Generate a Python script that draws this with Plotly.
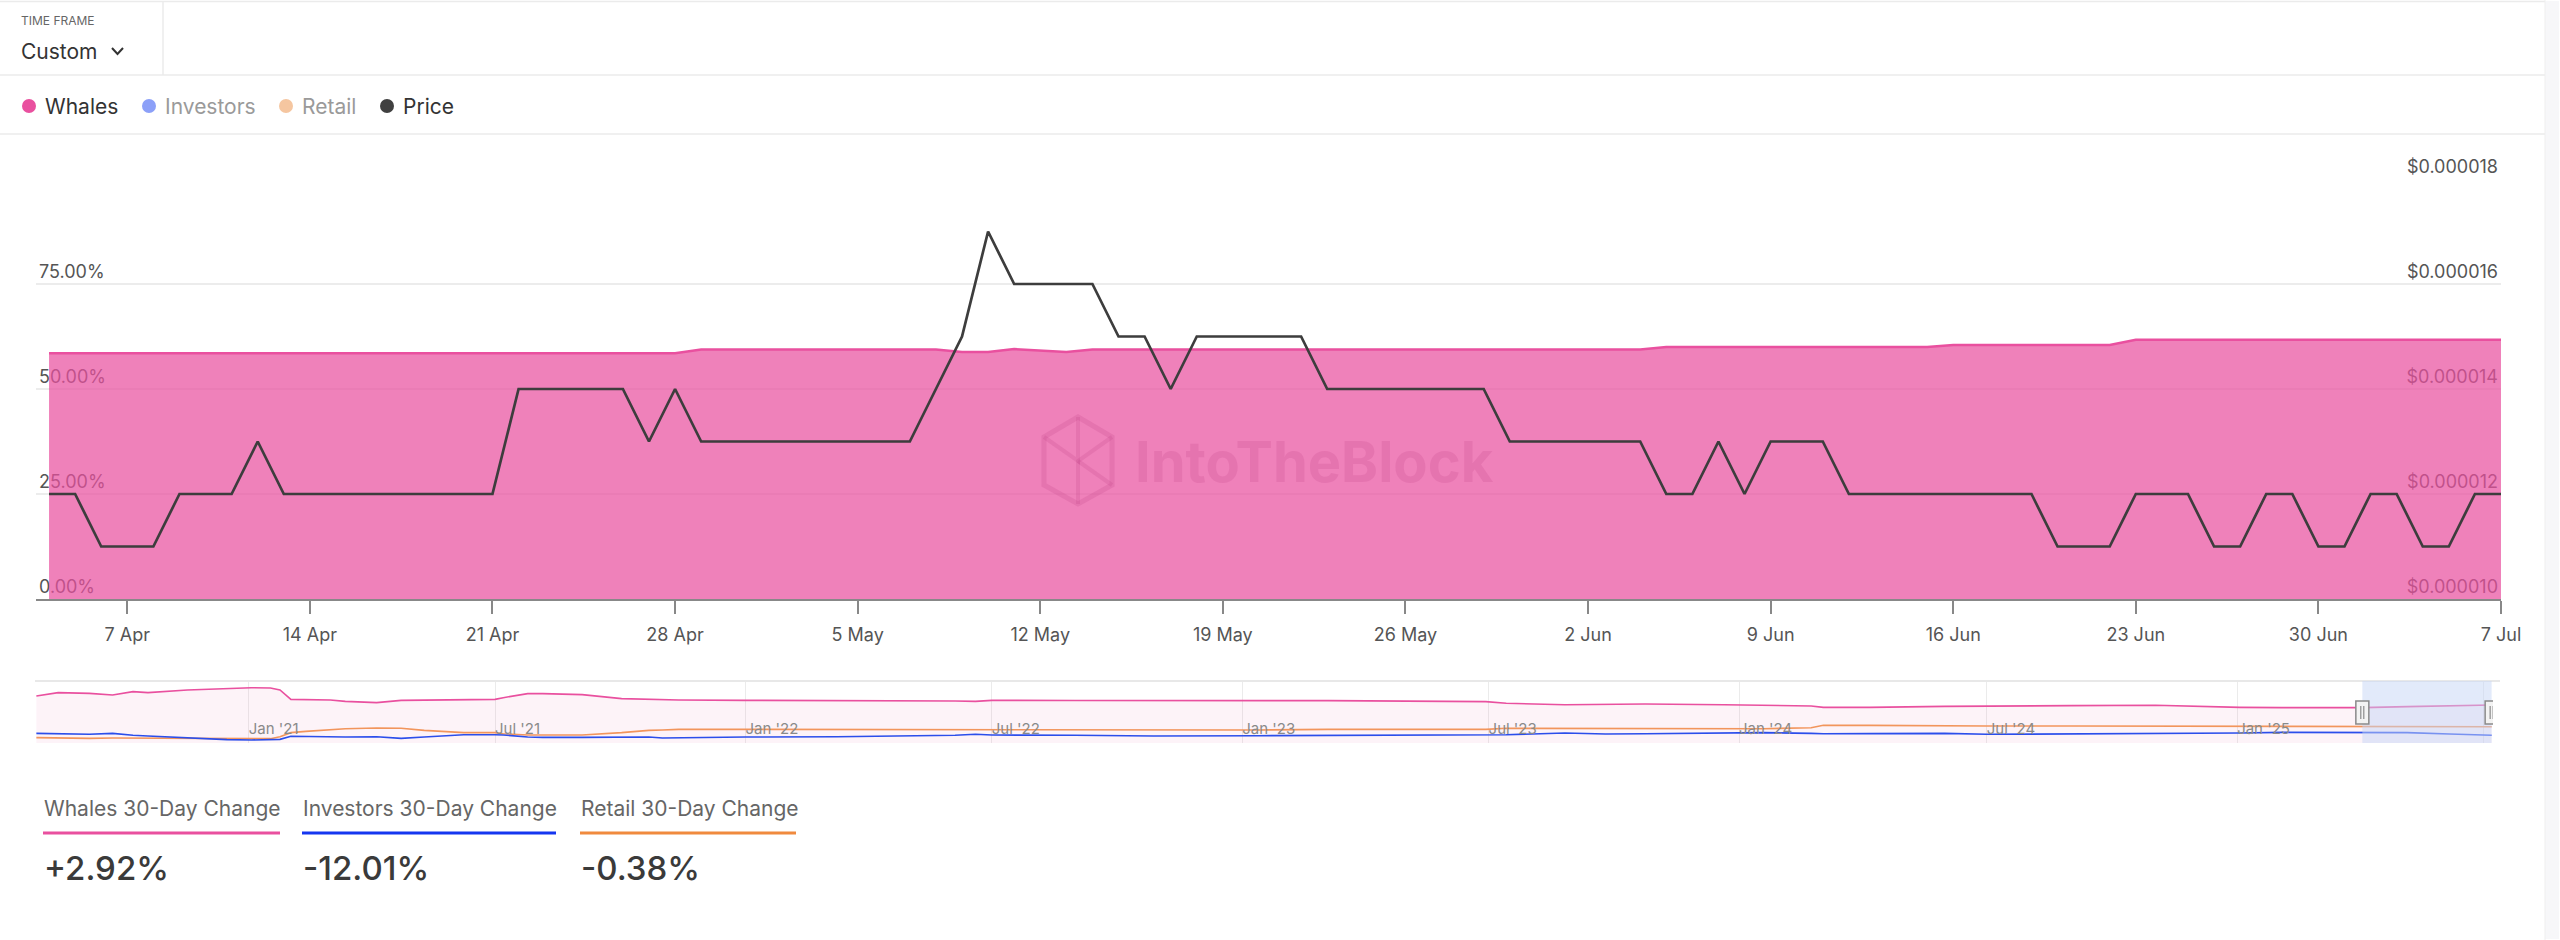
import pandas as pd
import plotly.graph_objects as go

W, H = 2560, 940
FONT = "Inter"

# ---------------- data: main chart (daily, 4 Apr 2025 - 7 Jul 2025) ----------------
dates = pd.date_range("2025-04-04", "2025-07-07", freq="D")

whales_pct = [
    58.5, 58.5, 58.5, 58.5, 58.5, 58.5, 58.5, 58.5, 58.5, 58.5,
    58.5, 58.5, 58.5, 58.5, 58.5, 58.5, 58.5, 58.5, 58.5, 58.5,
    58.5, 58.5, 58.5, 58.5, 58.5, 59.4, 59.4, 59.4, 59.4, 59.4,
    59.4, 59.4, 59.4, 59.4, 59.4, 58.8, 58.8, 59.5, 59.2, 58.8,
    59.4, 59.4, 59.4, 59.4, 59.4, 59.4, 59.4, 59.4, 59.4, 59.4,
    59.4, 59.4, 59.4, 59.4, 59.4, 59.4, 59.4, 59.4, 59.4, 59.4,
    59.4, 59.4, 60.0, 60.0, 60.0, 60.0, 60.0, 60.0, 60.0, 60.0,
    60.0, 60.0, 60.0, 60.5, 60.5, 60.5, 60.5, 60.5, 60.5, 60.5,
    61.7, 61.7, 61.7, 61.7, 61.7, 61.7, 61.7, 61.7, 61.7, 61.7,
    61.7, 61.7, 61.7, 61.7, 61.7,
]

# price in millionths of a dollar
price_micro = [
    12, 12, 11, 11, 11, 12, 12, 12, 13, 12,
    12, 12, 12, 12, 12, 12, 12, 12, 14, 14,
    14, 14, 14, 13, 14, 13, 13, 13, 13, 13,
    13, 13, 13, 13, 14, 15, 17, 16, 16, 16,
    16, 15, 15, 14, 15, 15, 15, 15, 15, 14,
    14, 14, 14, 14, 14, 14, 13, 13, 13, 13,
    13, 13, 12, 12, 13, 12, 13, 13, 13, 12,
    12, 12, 12, 12, 12, 12, 12, 11, 11, 11,
    12, 12, 12, 11, 11, 12, 12, 11, 11, 12,
    12, 11, 11, 12, 12,
]
price_usd = [v * 1e-6 for v in price_micro]

pct_ticks = [0, 25, 50, 75, 100]
pct_labels = ["0.00%", "25.00%", "50.00%", "75.00%", ""]
price_ticks = [0.000010, 0.000012, 0.000014, 0.000016, 0.000018]
price_labels = ["$0.000010", "$0.000012", "$0.000014", "$0.000016", "$0.000018"]

# ---------------- data: navigator (long history) ----------------
nav_dates = [
    "2020-07-29", "2020-08-14", "2020-09-06", "2020-09-23", "2020-10-08", "2020-10-19",
    "2020-11-17", "2020-12-16", "2021-01-03", "2021-01-17", "2021-01-24", "2021-02-01",
    "2021-02-12", "2021-03-02", "2021-03-13", "2021-04-05", "2021-04-23", "2021-05-10",
    "2021-06-08", "2021-07-01", "2021-07-07", "2021-07-25", "2021-08-05", "2021-09-03",
    "2021-10-02", "2021-10-22", "2021-11-01", "2021-11-13", "2022-01-01", "2022-03-09",
    "2022-04-07", "2022-06-04", "2022-06-19", "2022-07-01", "2022-08-31", "2022-10-28",
    "2023-01-13", "2023-03-05", "2023-06-29", "2023-07-14", "2023-08-26", "2023-09-25",
    "2023-10-24", "2023-12-21", "2024-01-19", "2024-02-23", "2024-03-03", "2024-04-06",
    "2024-05-31", "2024-07-01", "2024-09-01", "2024-11-02", "2024-12-03", "2025-01-03",
    "2025-02-03", "2025-04-03", "2025-05-06", "2025-06-06", "2025-07-01", "2025-07-07",
]
nav_whales = [
    75.8, 81.2, 80.1, 77.4, 82.8, 81.2,
    85.5, 88.2, 89.2, 88.7, 85.5, 70.4,
    70.4, 69.4, 67.2, 65.1, 68.8, 69.4,
    70.4, 70.4, 73.1, 79.6, 79.6, 78.0,
    71.5, 70.4, 69.4, 69.4, 68.8, 68.8,
    68.3, 67.7, 67.2, 68.8, 68.5, 68.3,
    68.3, 68.3, 66.7, 64.0, 61.8, 62.4,
    62.9, 61.8, 60.8, 59.7, 57.5, 57.5,
    59.0, 59.7, 60.3, 60.8, 58.6, 57.5,
    57.0, 57.0, 58.6, 60.0, 60.8, 61.3,
]
nav_investors = [
    15.6, 15.0, 14.0, 15.6, 12.4, 11.3,
    8.1, 5.4, 4.8, 5.4, 5.9, 10.8,
    10.2, 9.7, 9.7, 10.2, 7.5, 9.7,
    13.4, 13.4, 13.0, 9.7, 9.1, 9.1,
    9.4, 9.7, 8.1, 8.6, 9.7, 10.2,
    10.8, 12.4, 14.0, 12.9, 12.4, 11.3,
    11.8, 12.4, 13.4, 13.4, 16.1, 14.5,
    15.0, 16.2, 16.7, 15.6, 15.0, 15.1,
    15.6, 14.0, 14.5, 15.1, 15.8, 16.1,
    17.2, 17.2, 16.7, 14.5, 13.0, 12.4,
]
nav_retail = [
    8.6, 8.0, 7.5, 8.1, 8.0, 7.5,
    7.0, 6.5, 6.5, 7.0, 10.2, 16.7,
    18.8, 21.0, 23.1, 24.2, 23.7, 20.4,
    16.7, 16.7, 15.0, 12.9, 12.9, 12.9,
    16.7, 20.4, 21.0, 22.0, 22.0, 21.8,
    21.5, 21.0, 20.8, 20.4, 20.4, 20.6,
    21.0, 22.0, 22.0, 23.7, 23.4, 23.0,
    22.6, 23.1, 23.1, 24.7, 28.5, 28.5,
    27.4, 27.4, 27.4, 27.0, 26.9, 26.9,
    26.7, 26.3, 26.3, 26.3, 26.3, 26.3,
]

legend_names = ["Whales", "Investors", "Retail", "Price"]
legend_dot_colors = ["#E9509F", "#8CA0F8", "#F5C6A0", "#404040"]
legend_text_colors = ["#333333", "#9a9a9a", "#9a9a9a", "#333333"]

stat_labels = ["Whales 30-Day Change", "Investors 30-Day Change", "Retail 30-Day Change"]
stat_values = ["+2.92%", "-12.01%", "-0.38%"]
stat_colors = ["#E9509F", "#1536F0", "#F08A3E"]

sel_start, sel_end = "2025-04-03", "2025-07-07"

# ---------------- helpers (pixel -> paper) ----------------
def fx(x):
    return x / W


def fy(y):
    return 1 - y / H


def path(points, close=False):
    s = "M " + " L ".join(f"{fx(x):.5f},{fy(y):.5f}" for x, y in points)
    return s + (" Z" if close else "")


fig = go.Figure()

# main chart traces
fig.add_trace(go.Scatter(
    x=dates, y=whales_pct, mode="lines", name="Whales",
    line=dict(color="#E9509F", width=2.5),
    fill="tozeroy", fillcolor="rgba(233,80,159,0.72)",
    xaxis="x", yaxis="y", hoverinfo="skip"))
fig.add_trace(go.Scatter(
    x=dates, y=price_usd, mode="lines", name="Price",
    line=dict(color="#3d3d3d", width=2.7),
    xaxis="x", yaxis="y3", hoverinfo="skip"))

# navigator traces
fig.add_trace(go.Scatter(
    x=nav_dates, y=nav_whales, mode="lines", line=dict(color="#E9509F", width=1.6),
    fill="tozeroy", fillcolor="rgba(233,80,159,0.07)",
    xaxis="x2", yaxis="y2", hoverinfo="skip"))
fig.add_trace(go.Scatter(
    x=nav_dates, y=nav_retail, mode="lines", line=dict(color="#F2955C", width=1.6),
    xaxis="x2", yaxis="y2", hoverinfo="skip"))
fig.add_trace(go.Scatter(
    x=nav_dates, y=nav_investors, mode="lines", line=dict(color="#2B4EEB", width=1.6),
    xaxis="x2", yaxis="y2", hoverinfo="skip"))

tickfont_main = dict(family=FONT, size=18, color="#555555")

fig.update_layout(
    width=W, height=H, autosize=False,
    margin=dict(l=0, r=0, t=0, b=0, pad=0, autoexpand=False),
    paper_bgcolor="white", plot_bgcolor="rgba(0,0,0,0)",
    showlegend=False,
    font=dict(family=FONT, color="#555555"),
    xaxis=dict(
        domain=[fx(36), fx(2501)], anchor="y", type="date", automargin=False,
        range=["2025-04-03 12:00", "2025-07-07"],
        tick0="2025-04-07", dtick=7 * 86400000, tickformat="%-d %b",
        ticks="outside", ticklen=13, tickwidth=1.5, tickcolor="#888888",
        ticklabelstandoff=6,
        showline=True, linecolor="#888888", linewidth=1.5,
        showgrid=False, zeroline=False, tickfont=tickfont_main,
    ),
    yaxis=dict(
        domain=[fy(599), fy(179)], anchor="x", range=[0, 100], automargin=False,
        tickmode="array", tickvals=pct_ticks, ticktext=pct_labels,
        ticklabelposition="inside top", ticklabeloverflow="allow",
        ticks="", showgrid=True, gridcolor="#ececec", gridwidth=1.6,
        zeroline=False, showline=False, layer="below traces",
        tickfont=tickfont_main,
    ),
    yaxis3=dict(
        overlaying="y", side="right", anchor="x", automargin=False,
        range=[0.000010, 0.000018],
        tickmode="array", tickvals=price_ticks, ticktext=price_labels,
        ticklabelposition="inside top", ticklabeloverflow="allow",
        ticks="", showgrid=False, zeroline=False, showline=False,
        layer="below traces", tickfont=tickfont_main,
    ),
    xaxis2=dict(
        domain=[fx(35), fx(2493)], anchor="y2", type="date", automargin=False,
        range=["2020-07-28", "2025-07-08"],
        tick0="2021-01-01", dtick="M6", tickformat="%b '%y",
        ticklabelposition="inside right", ticks="",
        showgrid=True, gridcolor="#ebebeb", gridwidth=1,
        showline=False, zeroline=False,
        tickfont=dict(family=FONT, size=15, color="#8a8a8a"),
    ),
    yaxis2=dict(
        domain=[fy(743), fy(681)], anchor="x2", range=[0, 100], visible=False, automargin=False,
    ),
)

shapes = []
line_grey = "#ebebeb"
# header frame lines
shapes.append(dict(type="line", xref="paper", yref="paper", x0=0, x1=fx(2545), y0=fy(1.5), y1=fy(1.5),
                   line=dict(color=line_grey, width=1.5)))
shapes.append(dict(type="line", xref="paper", yref="paper", x0=0, x1=fx(2545), y0=fy(75), y1=fy(75),
                   line=dict(color=line_grey, width=1.5)))
shapes.append(dict(type="line", xref="paper", yref="paper", x0=0, x1=fx(2545), y0=fy(134), y1=fy(134),
                   line=dict(color=line_grey, width=1.5)))
shapes.append(dict(type="line", xref="paper", yref="paper", x0=fx(163), x1=fx(163), y0=fy(1.5), y1=fy(75),
                   line=dict(color=line_grey, width=1.5)))
# dropdown chevron
shapes.append(dict(type="path", xref="paper", yref="paper",
                   path=path([(112, 48), (117.5, 54), (123, 48)]),
                   line=dict(color="#333333", width=2)))
# right scrollbar strip
shapes.append(dict(type="rect", xref="paper", yref="paper", x0=fx(2545), x1=fx(2559), y0=fy(939), y1=fy(1),
                   fillcolor="#f7f7f9", line=dict(width=0)))
shapes.append(dict(type="line", xref="paper", yref="paper", x0=fx(2545), x1=fx(2545), y0=0, y1=1,
                   line=dict(color="#efefef", width=1)))

# legend dots
legend_dot_x = [29, 149, 286, 387]
legend_text_x = [44, 164, 301, 402]
for cx, col in zip(legend_dot_x, legend_dot_colors):
    shapes.append(dict(type="circle", xref="paper", yref="paper",
                       x0=fx(cx - 7), x1=fx(cx + 7), y0=fy(106 + 7), y1=fy(106 - 7),
                       fillcolor=col, line=dict(width=0)))

# watermark logo
wm = "rgba(185,55,125,0.17)"
shapes.append(dict(type="path", xref="paper", yref="paper",
                   path=path([(1078, 417), (1112, 437), (1112, 485), (1078, 504), (1044, 485), (1044, 437)], close=True),
                   line=dict(color=wm, width=5)))
shapes.append(dict(type="path", xref="paper", yref="paper",
                   path=path([(1078, 417), (1078, 461), (1044, 437)]), line=dict(color=wm, width=4)))
shapes.append(dict(type="path", xref="paper", yref="paper",
                   path=path([(1078, 461), (1112, 485)]), line=dict(color=wm, width=4)))
shapes.append(dict(type="path", xref="paper", yref="paper",
                   path=path([(1112, 437), (1078, 461), (1078, 504)]), line=dict(color=wm, width=4)))

# navigator top border
shapes.append(dict(type="line", xref="paper", yref="paper", x0=fx(35), x1=fx(2500), y0=fy(681), y1=fy(681),
                   line=dict(color="#e8e8e8", width=2)))
# navigator selection
shapes.append(dict(type="rect", xref="x2", yref="paper", x0=sel_start, x1=sel_end,
                   y0=fy(743), y1=fy(681), fillcolor="rgba(198,214,245,0.5)",
                   line=dict(width=0), layer="above"))
for anchor in (sel_start, sel_end):
    shapes.append(dict(type="rect", xref="x2", yref="paper", xsizemode="pixel", xanchor=anchor,
                       x0=-6.5, x1=6.5, y0=fy(724), y1=fy(701),
                       fillcolor="#f3f3f3", line=dict(color="#8a8a8a", width=1.5), layer="above"))
    for off in (-1.5, 1.5):
        shapes.append(dict(type="line", xref="x2", yref="paper", xsizemode="pixel", xanchor=anchor,
                           x0=off, x1=off, y0=fy(719), y1=fy(706),
                           line=dict(color="#777777", width=1), layer="above"))

# stats underlines
stat_x = [(43, 280), (302, 556), (580, 796)]
for (x0, x1), col in zip(stat_x, stat_colors):
    shapes.append(dict(type="rect", xref="paper", yref="paper", x0=fx(x0), x1=fx(x1),
                       y0=fy(834.5), y1=fy(831.5), fillcolor=col, line=dict(width=0)))

fig.update_layout(shapes=shapes)

ann = []


def text(x, y, s, size, color, weight=None, xanchor="left"):
    f = dict(family=FONT, size=size, color=color)
    if weight:
        f["weight"] = weight
    ann.append(dict(xref="paper", yref="paper", x=fx(x), y=fy(y), text=s, showarrow=False,
                    xanchor=xanchor, yanchor="middle", font=f, borderpad=0))


text(20, 21, "TIME FRAME", 12, "#666666")
text(20, 51, "Custom", 21, "#333333")
for tx, name, col in zip(legend_text_x, legend_names, legend_text_colors):
    text(tx, 106, name, 21, col)
for (x0, x1), lab, val in zip(stat_x, stat_labels, stat_values):
    text(x0, 808, lab, 21, "#666666")
    text(x0, 868, val, 33, "#3a3a3a", weight=500)
text(1314, 462, "IntoTheBlock", 56, wm, weight="bold", xanchor="center")

fig.update_layout(annotations=ann)

fig.write_html(
    "out.html",
    config={"displayModeBar": False, "responsive": False},
    post_script=(
        "var s=document.createElement('style');"
        "s.textContent='html,body{margin:0!important;padding:0!important;overflow:hidden!important;"
        "width:2560px;height:940px;}"
        ".plotly-graph-div{position:fixed!important;left:0!important;top:0!important;}';"
        "document.head.appendChild(s);"
    ),
)
